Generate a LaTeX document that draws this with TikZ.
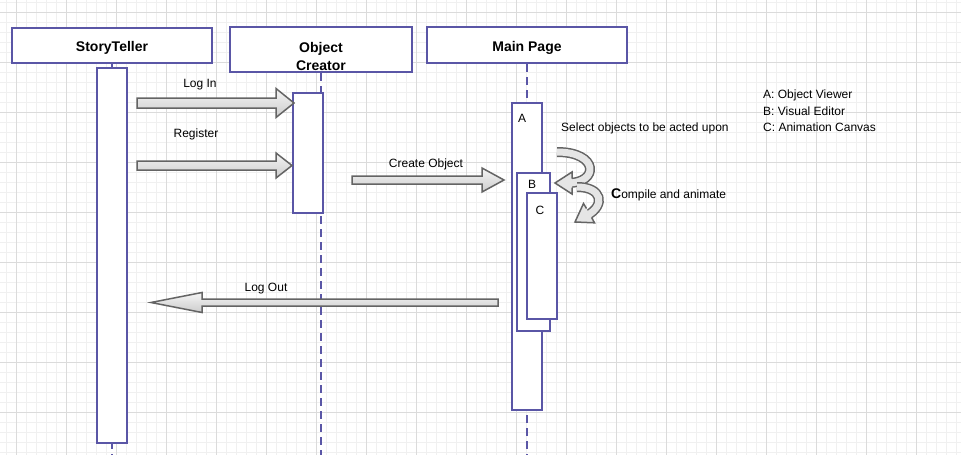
\documentclass[tikz,border=0pt]{standalone}
\usepackage{fontspec}
\setmainfont{Liberation Sans}
\usetikzlibrary{calc}
\definecolor{UMLPurple}{RGB}{90,86,166}
\definecolor{ArrowGray}{RGB}{100,100,100}
\def\UMLPurple{UMLPurple}
\def\ArrowFill{black!10}
\def\GridMinor{black!6}
\def\GridMajor{black!14}

% start, tip, shaft half width, head half width, head length
\newcommand{\blockarrow}[5]{%
  \draw[blockarrow] let \p1=(#1), \p2=(#2), \n1={sign(\x2-\x1)} in
    (\x1,{\y1+#3pt}) -- ({\x2-(\n1)*#5pt},{\y1+#3pt}) -- ({\x2-(\n1)*#5pt},{\y1+#4pt})
    -- (\x2,\y1) -- ({\x2-(\n1)*#5pt},{\y1-#4pt}) -- ({\x2-(\n1)*#5pt},{\y1-#3pt})
    -- (\x1,{\y1-#3pt}) -- cycle;}

\begin{document}
\begin{tikzpicture}
    [x=1pt,y=-1pt,
    header/.style={rectangle,draw=\UMLPurple,line width=2pt,fill=white,inner sep=0pt},
    headtext/.style={font=\fontsize{14}{18}\selectfont\bfseries,align=center,inner sep=0pt},
    act/.style={rectangle,draw=\UMLPurple,line width=2pt,fill=white,minimum width=30pt,inner sep=0pt},
    lifeline/.style={draw=\UMLPurple,line width=2pt,dash pattern=on 8pt off 5pt},
    note/.style={font=\fontsize{12}{14}\selectfont,inner sep=0pt},
    blockarrow/.style={draw=ArrowGray,line width=1.5pt,line join=miter,top color=black!4,bottom color=black!20},
    curvearrow/.style={draw=ArrowGray,line width=1.5pt,double=\ArrowFill,double distance=7pt},
    arrowtip/.style={draw=ArrowGray,line width=1.5pt,line join=miter},
    ]
    \useasboundingbox (0,0) rectangle (961,455);
    \fill[white] (0,0) rectangle (961,455);
    % grid
    \foreach \gx in {6,16,...,956} \draw[\GridMinor,line width=1pt] (\gx,0) -- (\gx,455);
    \foreach \gy in {2,12,...,452} \draw[\GridMinor,line width=1pt] (0,\gy) -- (961,\gy);
    \foreach \gx in {16,66,...,916} \draw[\GridMajor,line width=1pt] (\gx,0) -- (\gx,455);
    \foreach \gy in {12,62,...,412} \draw[\GridMajor,line width=1pt] (0,\gy) -- (961,\gy);

    % heads of the lifelines
    \node[header,minimum width=200pt,minimum height=35pt] (teller) at (112,45.5) {};
    \node[headtext] at (112,48) {StoryTeller};
    \node[header,minimum width=182pt,minimum height=45pt] (creator) at (321,49.5) {};
    \node[headtext] at (321,56.5) {Object\\Creator};
    \node[header,minimum width=200pt,minimum height=36pt] (mainpage) at (527,45) {};
    \node[headtext] at (527,48) {Main Page};

    % lifelines
    \draw[lifeline] (teller.south) -- (teller.south |- 0,455);
    \draw[lifeline] (creator.south) -- (creator.south |- 0,455);
    \draw[lifeline] (mainpage.south) -- (mainpage.south |- 0,455);

    % activations
    \node[act,minimum height=375pt] (tellerbar) at (112,255.5) {};
    \node[act,minimum height=120pt] (creatorbar) at (308,153) {};
    \node[act,minimum height=307pt] (viewer) at (527,256.5) {};
    \node[act,minimum width=33pt,minimum height=158pt] (editor) at (533.5,252) {};
    \node[act,minimum height=126pt] (canvas) at (542,256) {};
    \node[note] at (522,118) {A};
    \node[note] at (532,184) {B};
    \node[note] at (540,210) {C};

    % messages
    \coordinate (login) at (137,103);
    \coordinate (register) at (137,165.5);
    \coordinate (create) at (352,180);
    \coordinate (logout) at (498,302.5);
    \coordinate (loginend) at ($(creatorbar.west |- login)+(2,0)$);
    \coordinate (registerend) at (creatorbar.west |- register);
    \coordinate (createend) at ($(viewer.west |- create)+(-7,0)$);
    \coordinate (logoutend) at ($(tellerbar.east |- logout)+(23,0)$);
    \blockarrow{login}{loginend}{5}{14.5}{18}
    \blockarrow{register}{registerend}{4.5}{12.5}{16}
    \blockarrow{create}{createend}{4}{12}{22}
    \blockarrow{logout}{logoutend}{3.5}{10}{51}
    \node[note] at (200,85) {Log In};
    \node[note] at (196,134) {Register};
    \node[note] at (426,164) {Create Object};
    \node[note] at (266,289) {Log Out};

    % self calls
    \draw[curvearrow] (557,152) .. controls (599,152) and (599,183) .. (568,183);
    \fill[\ArrowFill] (572,172) -- (555,183) -- (572,194) -- cycle;
    \draw[arrowtip] (572,178.5) -- (572,172) -- (555,183) -- (572,194) -- (572,187.5);
    \draw[curvearrow] (577,187) .. controls (602,187) and (606,205) .. (587,215.5);
    \fill[\ArrowFill] (594.5,222.8) -- (575,222) -- (583.5,203.5) -- cycle;
    \draw[arrowtip] (591.6,217.5) -- (594.5,222.8) -- (575,222) -- (583.5,203.5) -- (586.5,208.5);
    \node[note,anchor=west] at (561,128.5) {Select objects to be acted upon};
    \node[note,anchor=west] at (611,194.5) {{\fontsize{14}{14}\selectfont\bfseries C}ompile and animate};

    % legend
    \node[note,anchor=west,align=left,font=\fontsize{12}{16.5}\selectfont] at (763,111)
      {A: Object Viewer\\B: Visual Editor\\C: Animation Canvas};
  \end{tikzpicture}
\end{document}
